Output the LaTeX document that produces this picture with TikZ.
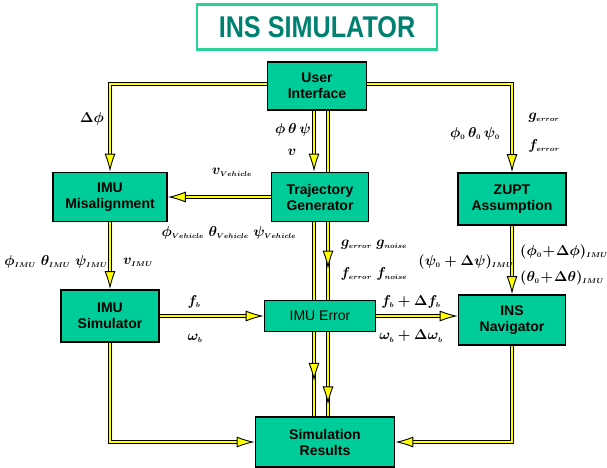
\documentclass[tikz,border=0pt]{standalone}
\usepackage{fontspec}
\setsansfont{Liberation Sans}
\usepackage{amsmath}
\usepackage{bm}
\DeclareMathSizes{14}{14}{7.5}{6}
\usetikzlibrary{arrows.meta,backgrounds,decorations.markings,calc}
\definecolor{boxgreen}{RGB}{0,204,153}
\definecolor{titleteal}{RGB}{0,128,112}
\definecolor{titleframe}{RGB}{40,210,150}
\definecolor{pipeyellow}{RGB}{255,255,0}
\tikzset{
  block/.style={draw=black, line width=1.6pt, fill=boxgreen, align=center,
    font=\sffamily\bfseries\fontsize{14}{16}\selectfont},
  pipe/.style={draw=black, line width=4.4pt, postaction={draw=pipeyellow, line width=2.4pt}},
  tipat/.style={postaction={decorate, decoration={markings,
    mark=at position #1 with {\arrow{Latex[length=18pt,width=11pt,fill=pipeyellow,line width=0.9pt]}}}}},
  endtip/.style={shorten >=8pt, tipat=1},
  lbl/.style={font=\fontsize{14}{16}\selectfont\boldmath}
}

\begin{document}
\begin{tikzpicture}[x=1pt,y=-1pt]

    \useasboundingbox (0,0) rectangle (607,467);

    \node[draw=titleframe, line width=2.5pt, minimum width=240pt, minimum height=45pt, text=titleteal,
          font=\sffamily\bfseries\fontsize{30}{30}\selectfont] (title) at (317,27) {\scalebox{0.84}[1]{INS SIMULATOR}};

    % blocks
    \node[block, minimum width=99pt, minimum height=48pt] (ui) at (317,86) {User\\Interface};
    \node[block, minimum width=114pt, minimum height=49pt] (mis) at (110,197) {IMU\\Misalignment};
    \node[block, minimum width=97pt, minimum height=49pt] (traj) at (320,197) {Trajectory\\Generator};
    \node[block, minimum width=108pt, minimum height=52pt] (zupt) at (512,199) {ZUPT\\Assumption};
    \node[block, minimum width=98pt, minimum height=52pt] (imusim) at (110,316) {IMU\\Simulator};
    \node[block, minimum width=111pt, minimum height=31pt, font=\sffamily\fontsize{14}{16}\selectfont] (err) at (320,316) {IMU Error};
    \node[block, minimum width=107pt, minimum height=50pt] (nav) at (512,320) {INS\\Navigator};
    \node[block, minimum width=139pt, minimum height=50pt] (res) at (325,442) {Simulation\\Results};

    \coordinate (lft) at ([xshift=-6pt]traj.center);
    \coordinate (rgt) at ([xshift=8pt]traj.center);

    \begin{scope}[on background layer]
        \draw[pipe, endtip] ([yshift=2pt]ui.west) -| (mis.north);
        \draw[pipe, endtip] ([yshift=2pt]ui.east) -| (zupt.north);
        \draw[pipe, endtip] (ui.south -| lft) -- (traj.north -| lft);
        \draw[pipe] (ui.south -| rgt) -- (traj.north -| rgt);
        \draw[pipe] (traj.south -| lft) -- (err.north -| lft);
        \draw[pipe, tipat=0.6] (traj.south -| rgt) -- (err.north -| rgt);
        \draw[pipe, tipat=0.58] (err.south -| lft) -- (res.north -| lft);
        \draw[pipe, tipat=0.86] (err.south -| rgt) -- (res.north -| rgt);
        \draw[pipe, endtip] (traj.west) -- (mis.east);
        \draw[pipe, endtip] (mis.south) -- (imusim.north);
        \draw[pipe, endtip] (imusim.east) -- (err.west);
        \draw[pipe, endtip] (err.east) -- (err.east -| nav.west);
        \draw[pipe, endtip] (zupt.south) -- (nav.north);
        \draw[pipe, endtip] (imusim.south) |- (res.west);
        \draw[pipe, endtip] (nav.south) |- (res.east);
    \end{scope}

    % signal labels
    \node[lbl] (dphi) at (92,119) {$\Delta\phi$};
    \node[lbl] (att) at (293,130) {$\phi\,\theta\,\psi$};
    \node[lbl] (vel) at (292,152) {$v$};
    \node[lbl] (vveh) at (232,172) {$v_{Vehicle}$};
    \node[lbl] (attveh) at (229,233) {$\phi_{Vehicle}\;\theta_{Vehicle}\;\psi_{Vehicle}$};
    \node[lbl] (att0) at (475,134) {$\phi_0\,\theta_0\,\psi_0$};
    \node[lbl] (gerr) at (544,118) {$g_{error}$};
    \node[lbl] (ferr) at (544,146) {$f_{error}$};
    \node[lbl] (attimu) at (56,262) {$\phi_{IMU}\;\theta_{IMU}\;\psi_{IMU}$};
    \node[lbl] (vimu) at (138,262) {$v_{IMU}$};
    \node[lbl] (fb) at (194,302) {$f_b$};
    \node[lbl] (wb) at (195,338) {$\omega_b$};
    \node[lbl] (gnoise) at (374,245) {$g_{error}\;g_{noise}$};
    \node[lbl] (fnoise) at (374,274) {$f_{error}\;f_{noise}$};
    \node[lbl] (psi0) at (466,262) {$(\psi_0+\Delta\psi)_{IMU}$};
    \node[lbl, anchor=west, inner sep=1pt] (phi0) at (519,252) {$(\phi_0\!+\!\Delta\phi)_{IMU}$};
    \node[lbl, anchor=west, inner sep=1pt] (theta0) at (519,278) {$(\theta_0\!+\!\Delta\theta)_{IMU}$};
    \node[lbl] (fbd) at (411,302) {$f_b+\Delta f_b$};
    \node[lbl] (wbd) at (411,336) {$\omega_b+\Delta\omega_b$};

\end{tikzpicture}
\end{document}
